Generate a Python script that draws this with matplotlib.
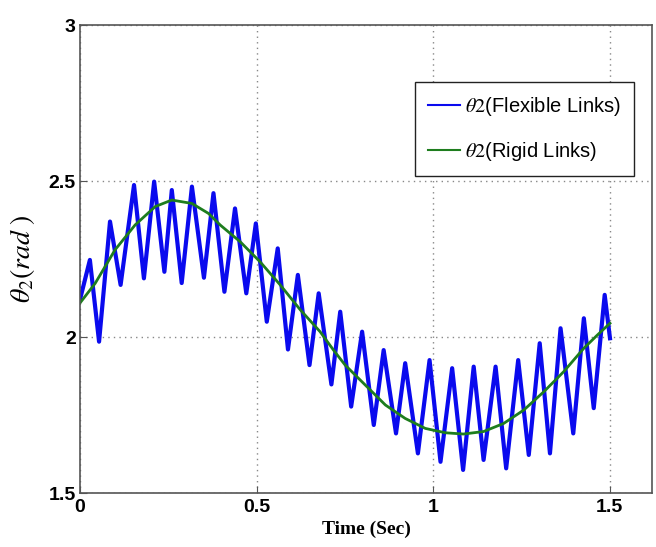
import matplotlib
matplotlib.use("Agg")
import matplotlib.pyplot as plt

# Flexible links: extrema of the oscillating response (time, value)
flex_t = [0.000, 0.028, 0.054, 0.085, 0.115, 0.153, 0.181, 0.210, 0.239, 0.260,
          0.288, 0.317, 0.351, 0.378, 0.409, 0.439, 0.471, 0.498, 0.529, 0.560,
          0.589, 0.617, 0.650, 0.676, 0.712, 0.737, 0.768, 0.799, 0.832, 0.860,
          0.895, 0.921, 0.957, 0.990, 1.021, 1.054, 1.085, 1.115, 1.143, 1.177,
          1.207, 1.241, 1.271, 1.302, 1.331, 1.361, 1.397, 1.427, 1.455, 1.486,
          1.501]
flex_v = [2.120, 2.247, 1.985, 2.370, 2.167, 2.487, 2.188, 2.498, 2.209, 2.471,
          2.173, 2.482, 2.190, 2.461, 2.145, 2.412, 2.140, 2.364, 2.049, 2.284,
          1.960, 2.199, 1.910, 2.140, 1.848, 2.081, 1.777, 2.017, 1.718, 1.958,
          1.691, 1.916, 1.627, 1.926, 1.600, 1.900, 1.574, 1.905, 1.606, 1.905,
          1.579, 1.926, 1.622, 1.980, 1.627, 2.028, 1.691, 2.060, 1.772, 2.135,
          1.996]

# Rigid links: smooth response
rigid_t = [0.000, 0.043, 0.099, 0.156, 0.213, 0.260, 0.317, 0.364, 0.397, 0.454,
           0.510, 0.567, 0.624, 0.680, 0.718, 0.751, 0.808, 0.865, 0.921, 0.978,
           1.035, 1.086, 1.143, 1.200, 1.257, 1.314, 1.370, 1.427, 1.465, 1.501]
rigid_v = [2.109, 2.172, 2.279, 2.359, 2.418, 2.439, 2.428, 2.396, 2.359, 2.305,
           2.241, 2.167, 2.087, 2.017, 1.958, 1.910, 1.846, 1.782, 1.739, 1.707,
           1.693, 1.689, 1.697, 1.723, 1.766, 1.825, 1.889, 1.964, 2.006, 2.044]

x_ticks = [0, 0.5, 1, 1.5]
x_tick_labels = ["0", "0.5", "1", "1.5"]
y_ticks = [1.5, 2, 2.5, 3]
y_tick_labels = ["1.5", "2", "2.5", "3"]

plt.rcParams["mathtext.fontset"] = "stix"

fig = plt.figure(figsize=(6.56, 5.47), dpi=100)
ax = fig.add_axes([80 / 656, 54 / 547, 572 / 656, 468 / 547])

ax.plot(flex_t, flex_v, color="#0a0aee", lw=3.0, label=r"$\theta 2$(Flexible Links)",
        solid_joinstyle="round")
ax.plot(rigid_t, rigid_v, color="#1e7d1e", lw=2.0, label=r"$\theta 2$(Rigid Links)")

ax.set_xlim(0, 1.62)
ax.set_ylim(1.5, 3)
ax.set_xticks(x_ticks)
ax.set_xticklabels(x_tick_labels)
ax.set_yticks(y_ticks)
ax.set_yticklabels(y_tick_labels)

for lab in ax.get_xticklabels() + ax.get_yticklabels():
    lab.set_fontfamily("Liberation Sans")
    lab.set_fontweight("bold")
    lab.set_fontsize(14)

ax.tick_params(direction="in", length=5, color="#555555", pad=3)
ax.tick_params(axis="x", pad=4)
for s in ax.spines.values():
    s.set_color("#555555")
    s.set_linewidth(1.2)

ax.grid(True, linestyle=(0, (1, 3)), color="#888888", lw=1.0)

ax.set_xlabel("Time (Sec)", fontfamily="Liberation Serif", fontsize=14,
              fontweight="bold", labelpad=4)
ax.set_ylabel(r"$\theta_2(rad\ )$", fontsize=20, labelpad=8)

leg = ax.legend(loc="upper right", bbox_to_anchor=(0.968, 0.878),
                prop={"family": "Liberation Sans", "size": 14.5},
                fancybox=False, framealpha=1, edgecolor="#222222",
                handlelength=1.6, handletextpad=0.25, borderpad=0.65,
                labelspacing=1.1, borderaxespad=0)
leg.get_frame().set_linewidth(1.0)
for line in leg.get_lines():
    line.set_linewidth(1.5)

fig.savefig("out.png", dpi=100)
